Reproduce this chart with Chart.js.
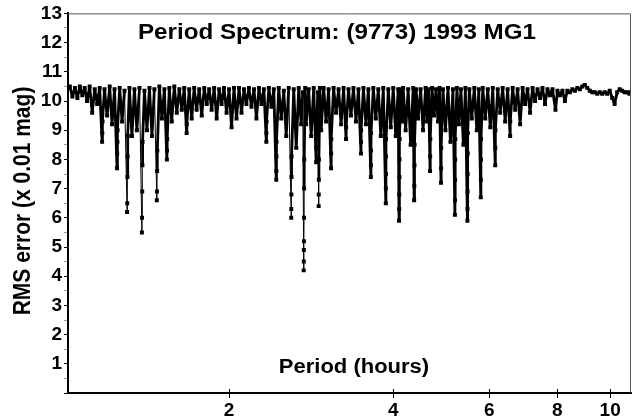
<!DOCTYPE html>
<html>
<head>
<meta charset="utf-8">
<script src="https://cdn.jsdelivr.net/npm/chart.js@4.4.1/dist/chart.umd.min.js"></script>
<style>
html, body { margin: 0; padding: 0; background: #fff; }
#wrap { width: 635px; height: 419px; }
</style>
</head>
<body>
<div id="wrap"><canvas id="chart" width="635" height="419"></canvas></div>
<script>
const periods = [
    1.013, 1.021, 1.032, 1.043, 1.054, 1.065, 1.076, 1.087, 1.098, 1.110,
    1.122, 1.134, 1.146, 1.158, 1.170, 1.171, 1.172, 1.182, 1.195, 1.208,
    1.220, 1.233, 1.246, 1.247, 1.248, 1.249, 1.260, 1.273, 1.286, 1.300,
    1.301, 1.302, 1.303, 1.304, 1.313, 1.327, 1.341, 1.355, 1.370, 1.384,
    1.385, 1.386, 1.387, 1.388, 1.399, 1.414, 1.429, 1.444, 1.459, 1.474,
    1.475, 1.476, 1.477, 1.490, 1.506, 1.522, 1.538, 1.539, 1.540, 1.554,
    1.570, 1.587, 1.604, 1.621, 1.638, 1.655, 1.672, 1.673, 1.690, 1.708,
    1.726, 1.744, 1.763, 1.782, 1.801, 1.820, 1.839, 1.858, 1.878, 1.898,
    1.918, 1.938, 1.958, 1.979, 2.000, 2.021, 2.042, 2.064, 2.086, 2.108,
    2.130, 2.152, 2.175, 2.198, 2.222, 2.245, 2.269, 2.293, 2.317, 2.341,
    2.342, 2.343, 2.366, 2.391, 2.416, 2.441, 2.442, 2.443, 2.444, 2.467,
    2.493, 2.520, 2.546, 2.573, 2.600, 2.601, 2.602, 2.603, 2.604, 2.628,
    2.656, 2.684, 2.712, 2.730, 2.741, 2.742, 2.743, 2.744, 2.745, 2.746,
    2.747, 2.758, 2.770, 2.799, 2.829, 2.859, 2.889, 2.890, 2.908, 2.920,
    2.921, 2.922, 2.923, 2.935, 2.951, 2.982, 3.013, 3.045, 3.077, 3.078,
    3.079, 3.110, 3.143, 3.176, 3.210, 3.244, 3.278, 3.279, 3.312, 3.347,
    3.382, 3.418, 3.454, 3.491, 3.492, 3.493, 3.528, 3.565, 3.602, 3.640,
    3.641, 3.642, 3.643, 3.678, 3.717, 3.756, 3.796, 3.836, 3.877, 3.878,
    3.879, 3.880, 3.881, 3.918, 3.959, 4.001, 4.043, 4.085, 4.100, 4.102,
    4.104, 4.106, 4.108, 4.110, 4.135, 4.152, 4.172, 4.216, 4.261, 4.306,
    4.352, 4.370, 4.373, 4.376, 4.379, 4.407, 4.444, 4.491, 4.538, 4.586,
    4.615, 4.645, 4.674, 4.676, 4.678, 4.713, 4.753, 4.793, 4.833, 4.864,
    4.895, 4.897, 4.899, 4.936, 4.988, 5.041, 5.094, 5.148, 5.191, 5.193,
    5.195, 5.197, 5.199, 5.235, 5.279, 5.324, 5.380, 5.426, 5.472, 5.474,
    5.476, 5.478, 5.480, 5.482, 5.518, 5.575, 5.634, 5.694, 5.742, 5.790,
    5.792, 5.794, 5.796, 5.839, 5.901, 5.964, 6.027, 6.091, 6.155, 6.157,
    6.159, 6.220, 6.285, 6.351, 6.418, 6.486, 6.555, 6.557, 6.625, 6.695,
    6.765, 6.837, 6.909, 6.982, 7.055, 7.130, 7.206, 7.282, 7.359, 7.437,
    7.515, 7.594, 7.674, 7.756, 7.838, 7.938, 8.004, 8.089, 8.174, 8.260,
    8.347, 8.436, 8.525, 8.615, 8.706, 8.798, 8.890, 8.984, 9.079, 9.176,
    9.273, 9.371, 9.469, 9.569, 9.670, 9.772, 9.875, 9.980, 10.09, 10.19,
    10.30, 10.41, 10.52, 10.63, 10.74, 10.85, 10.92
];

const rmsValues = [
    10.45, 10.5, 10.15, 10.45, 10.1, 10.5, 10.2, 10.45, 10.0, 10.5,
    9.6, 10.4, 9.9, 10.45, 8.6, 8.9, 9.3, 10.4, 9.5, 10.5,
    9.2, 10.4, 7.7, 8.2, 8.6, 9.0, 10.45, 9.3, 10.35, 6.2,
    6.5, 7.4, 8.1, 8.8, 10.45, 8.8, 10.4, 9.0, 10.45, 5.5,
    6.0, 6.9, 7.8, 8.6, 10.35, 9.0, 10.45, 8.8, 10.4, 6.6,
    6.9, 7.6, 8.3, 10.5, 9.4, 10.4, 8.0, 8.3, 8.7, 10.45,
    9.3, 10.5, 9.6, 10.4, 9.7, 10.45, 8.9, 9.2, 10.4, 9.4,
    10.45, 9.7, 10.4, 9.5, 10.45, 9.9, 10.4, 9.7, 10.45, 9.4,
    10.4, 9.9, 10.45, 9.6, 10.4, 9.1, 10.45, 9.4, 10.45, 9.6,
    10.4, 9.9, 10.45, 9.8, 10.4, 9.4, 10.45, 9.9, 10.4, 8.6,
    8.9, 9.3, 10.45, 9.8, 10.4, 7.3, 7.6, 8.1, 8.6, 10.45,
    9.4, 10.35, 8.8, 10.45, 6.0, 6.3, 6.8, 7.4, 8.1, 10.4,
    8.4, 10.45, 9.2, 10.3, 4.2, 4.5, 4.9, 5.2, 6.0, 7.0,
    8.0, 10.45, 9.2, 10.4, 8.8, 10.45, 7.9, 8.4, 10.3, 6.4,
    6.8, 7.3, 8.0, 10.45, 9.0, 10.45, 9.3, 10.4, 7.7, 8.2,
    8.7, 10.45, 9.6, 10.4, 9.2, 10.45, 8.7, 9.1, 10.4, 9.5,
    10.45, 9.3, 10.4, 8.2, 8.6, 9.0, 10.45, 9.2, 10.4, 7.4,
    7.8, 8.3, 8.9, 10.45, 9.4, 10.4, 8.8, 10.45, 6.5, 7.0,
    7.5, 8.1, 8.7, 10.4, 9.1, 10.45, 8.8, 10.4, 5.9, 6.3,
    6.8, 7.4, 8.0, 8.7, 10.4, 9.3, 10.45, 9.0, 10.4, 8.5,
    10.45, 6.6, 7.1, 7.8, 8.5, 10.4, 9.4, 10.4, 9.0, 10.45,
    9.3, 10.4, 7.6, 8.1, 8.7, 10.45, 9.5, 10.4, 9.3, 10.45,
    7.2, 7.7, 8.4, 10.4, 9.0, 10.45, 8.6, 10.4, 6.1, 6.6,
    7.3, 8.0, 8.7, 10.45, 9.2, 10.4, 8.5, 10.45, 5.9, 6.3,
    6.9, 7.5, 8.2, 8.9, 10.4, 9.4, 10.45, 9.0, 10.4, 6.7,
    7.3, 8.0, 8.7, 10.45, 9.4, 10.4, 9.1, 10.45, 7.8, 8.4,
    9.0, 10.4, 9.6, 10.45, 9.3, 10.4, 8.8, 9.3, 10.45, 9.7,
    10.4, 9.2, 10.45, 9.9, 10.4, 9.6, 10.45, 10.0, 10.4, 10.1,
    10.45, 9.9, 10.4, 10.2, 10.4, 9.7, 10.35, 10.2, 10.35, 10.0,
    10.35, 10.3, 10.4, 10.35, 10.45, 10.4, 10.5, 10.55, 10.45, 10.35,
    10.3, 10.3, 10.25, 10.3, 10.25, 10.3, 10.25, 10.35, 10.1, 9.9,
    10.3, 10.4, 10.35, 10.3, 10.3, 10.25, 10.3
];

const xTickValues = [2, 4, 6, 8, 10];
const xRange = [1.013, 10.92];
const yRange = [0, 13];

const chartTitle = 'Period Spectrum: (9773) 1993 MG1';
const xTitle = 'Period (hours)';
const yTitle = 'RMS error (x 0.01 mag)';

const fontFamily = "'Liberation Sans', Arial, sans-serif";

// Texto algo ensanchado en horizontal, como en la imagen original
function drawStretched(ctx, text, x, y, font, sx) {
    ctx.save();
    ctx.translate(x, y);
    ctx.scale(sx, 1);
    ctx.font = font;
    ctx.fillText(text, 0, 0);
    ctx.restore();
}

const decorPlugin = {
    id: 'decor',
    afterDraw(chart) {
        const ctx = chart.ctx;
        const a = chart.chartArea;
        const xs = chart.scales.x;
        ctx.save();

        // marco fino arriba y a la derecha
        ctx.strokeStyle = '#555';
        ctx.lineWidth = 1;
        ctx.beginPath();
        ctx.moveTo(a.left, a.top + 0.5);
        ctx.lineTo(a.right - 0.5, a.top + 0.5);
        ctx.lineTo(a.right - 0.5, a.bottom);
        ctx.stroke();

        // marcas del eje x que cruzan hacia dentro
        ctx.strokeStyle = '#000';
        xTickValues.forEach(v => {
            const px = Math.round(xs.getPixelForValue(v)) + 0.5;
            ctx.beginPath();
            ctx.moveTo(px, a.bottom - 4);
            ctx.lineTo(px, a.bottom);
            ctx.stroke();
        });

        // títulos
        ctx.fillStyle = '#000';
        ctx.textAlign = 'center';
        ctx.textBaseline = 'middle';
        drawStretched(ctx, chartTitle, 337, 33, 'bold 22px ' + fontFamily, 1.1);
        drawStretched(ctx, xTitle, 354, 367, 'bold 20px ' + fontFamily, 1.1);

        ctx.save();
        ctx.translate(24, 201);
        ctx.scale(1.1, 1);
        ctx.rotate(-Math.PI / 2);
        ctx.font = 'bold 21px ' + fontFamily;
        ctx.fillText(yTitle, 0, 0);
        ctx.restore();

        ctx.restore();
    }
};

const tickFont = { family: fontFamily, size: 19, weight: 'bold' };

// trazo grueso en la banda densa, fino en la parte honda de los mínimos de la izquierda
function segmentWidth(c) {
    const low = Math.min(c.p0.parsed.y, c.p1.parsed.y);
    return (low < 7 && c.p0.parsed.x < 3) ? 1 : 2.8;
}

new Chart(document.getElementById('chart'), {
    type: 'line',
    data: {
        datasets: [{
            data: periods.map((p, i) => ({ x: p, y: rmsValues[i] })),
            borderColor: '#000',
            borderWidth: 2.8,
            borderJoinStyle: 'round',
            borderCapStyle: 'butt',
            segment: { borderWidth: segmentWidth },
            tension: 0,
            pointStyle: 'rect',
            pointRadius: 2.8,
            pointBackgroundColor: '#000',
            pointBorderWidth: 0
        }]
    },
    options: {
        responsive: false,
        animation: false,
        events: [],
        devicePixelRatio: 1,
        layout: { padding: { top: 13, right: 1, left: 0, bottom: 0 } },
        plugins: {
            legend: { display: false },
            tooltip: { enabled: false }
        },
        scales: {
            x: {
                type: 'logarithmic',
                min: xRange[0],
                max: xRange[1],
                border: { display: true, color: '#000', width: 2 },
                grid: { drawOnChartArea: false, drawTicks: true, tickLength: 5, color: '#000' },
                ticks: {
                    font: tickFont,
                    color: '#000',
                    padding: 1,
                    autoSkip: false,
                    maxRotation: 0,
                    callback: v => xTickValues.includes(v) ? String(v) : ''
                },
                afterBuildTicks: s => { s.ticks = xTickValues.map(v => ({ value: v })); },
                afterFit: s => { s.height = 26; }
            },
            y: {
                min: yRange[0],
                max: yRange[1],
                border: { display: true, color: '#000', width: 2 },
                grid: {
                    drawOnChartArea: false,
                    drawTicks: true,
                    tickLength: 4,
                    color: c => (c.tick && c.tick.value % 1 !== 0) ? '#999' : '#000'
                },
                ticks: {
                    stepSize: 0.5,
                    autoSkip: false,
                    font: tickFont,
                    color: '#000',
                    padding: 2,
                    callback: v => (v % 1 === 0 && v > 0) ? String(v) : ''
                },
                afterFit: s => { s.width = 68; }
            }
        }
    },
    plugins: [decorPlugin]
});
</script>
</body>
</html>
